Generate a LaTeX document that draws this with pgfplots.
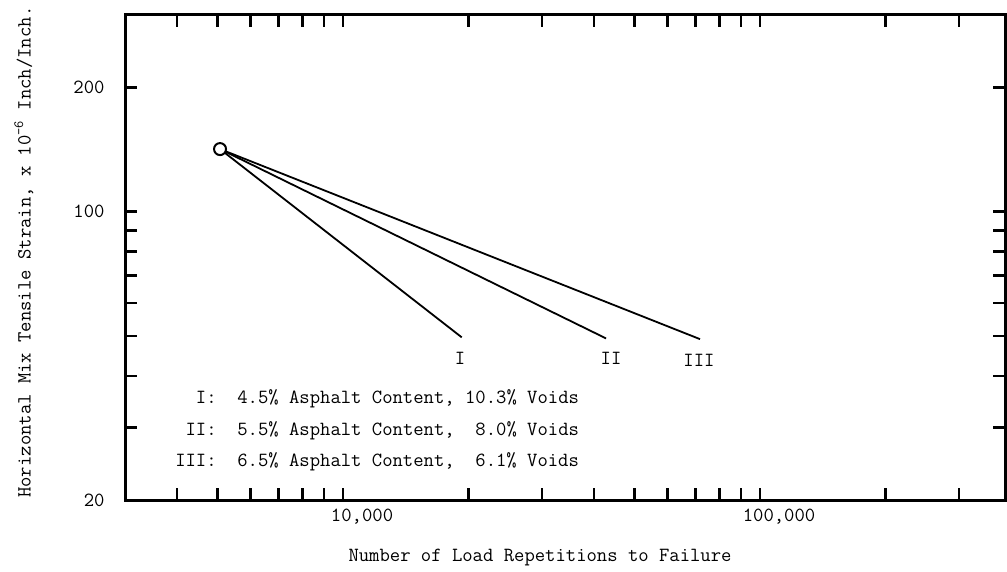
\documentclass[border=0pt]{standalone}
\usepackage{fontspec}
\usepackage{pgfplots}
\pgfplotsset{compat=1.18}
\newcommand{\tw}{\fontsize{20.1}{31.5}\selectfont\ttfamily\frenchspacing}
\begin{document}
\begin{tikzpicture}[x=1pt,y=1pt]
\path[use as bounding box] (0,0) rectangle (1007,-571);
\begin{axis}[
  at={(125pt,-500pt)}, anchor=south west,
  scale only axis, width=880pt, height=485pt,
  xmode=log, ymode=log,
  xmin=3000, xmax=386900, ymin=20, ymax=300,
  xtick={4000,5000,6000,7000,8000,9000,10000,20000,30000,40000,50000,60000,70000,80000,90000,100000,200000,300000},
  xticklabels={,,,,,,{\texttt{10,000}},,,,,,,,,{\texttt{100,000}},,},
  ytick={20,30,40,50,60,70,80,90,100,200},
  yticklabels={{\texttt{20}},,,,,,,,{\texttt{100}},{\texttt{200}}},
  minor tick length=0pt,
  tick align=inside,
  major tick length=12pt,
  every tick/.style={black, line width=2.5pt},
  axis line style={line width=3pt},
  xticklabel style={font=\tw, xshift=19pt, yshift=-5pt},
  yticklabel style={font=\tw, xshift=-17pt},
  xlabel={Number of Load Repetitions to Failure},
  xlabel style={font=\tw, at={(axis description cs:0.4716,0)}, anchor=base, yshift=-61pt},
  ylabel={Horizontal Mix Tensile Strain, x 10\textsuperscript{-6} Inch/Inch.},
  ylabel style={font=\tw, at={(axis description cs:-0.1148,0.511)}, anchor=center},
  clip=false,
]
\addplot[black, line width=1.8pt] coordinates {(5070,141.9) (19260,49.6)};
\addplot[black, line width=1.8pt] coordinates {(5070,141.9) (42730,49.3)};
\addplot[black, line width=1.8pt] coordinates {(5070,141.9) (71800,49.1)};
\addplot[only marks, mark=*, mark size=6pt, mark options={draw=black, fill=white, line width=2pt}] coordinates {(5070,141.9)};
\node[font=\tw, anchor=base] at (axis cs:19080,42.7) {I};
\node[font=\tw, anchor=base] at (axis cs:43930,42.5) {II};
\node[font=\tw, anchor=base] at (axis cs:71400,42.2) {III};
\node[font=\tw, anchor=base west, inner sep=0pt] at (axis cs:3956,34.2) {%
\begin{tabular}[t]{@{}r@{\ \ }l@{}}
I: & 4.5\% Asphalt Content, 10.3\% Voids\\
II: & 5.5\% Asphalt Content,\ \ 8.0\% Voids\\
III: & 6.5\% Asphalt Content,\ \ 6.1\% Voids
\end{tabular}};
\end{axis}
\end{tikzpicture}
\end{document}
